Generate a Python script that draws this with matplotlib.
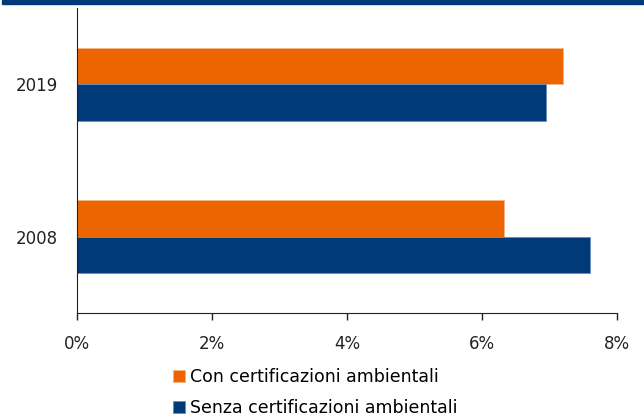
import matplotlib
matplotlib.use('Agg')
import matplotlib.pyplot as plt
from matplotlib.patches import Rectangle
from matplotlib.ticker import FuncFormatter
import numpy as np

years = ['2008', '2019']
con = [6.32, 7.20]
senza = [7.60, 6.95]
series_labels = ['Con certificazioni ambientali', 'Senza certificazioni ambientali']
orange = '#EC6500'
navy = '#003A78'

plt.rcParams['font.family'] = ['DejaVu Sans']

fig = plt.figure(figsize=(6.44, 4.18), dpi=100)
fig.patch.set_facecolor('white')
fig.patches.append(Rectangle((0.003, 0.99), 0.997, 0.01, transform=fig.transFigure,
                             color=navy, zorder=0))

ax = fig.add_axes([0.1196, 0.2512, 0.8384, 0.7298])
y = np.arange(len(years))
h = 0.24
ax.barh(y + h / 2, con, height=h, color=orange, edgecolor='#F5B383', linewidth=0.6,
        label=series_labels[0])
ax.barh(y - h / 2, senza, height=h, color=navy, edgecolor='#6C8DB8', linewidth=0.6,
        label=series_labels[1])

ax.set_xlim(0, 8)
ax.set_ylim(-0.5, 1.5)
ax.set_xticks([0, 2, 4, 6, 8])
ax.xaxis.set_major_formatter(FuncFormatter(lambda v, p: f'{v:.0f}%'))
ax.set_yticks(y)
ax.set_yticklabels(years)
ax.tick_params(axis='x', direction='out', length=5, width=1, pad=11, labelsize=12, colors='#222222')
ax.tick_params(axis='y', length=0, pad=14, labelsize=12, colors='#222222')
for s in ['top', 'right']:
    ax.spines[s].set_visible(False)
ax.spines['left'].set_color('#222222')
ax.spines['bottom'].set_color('#222222')

handles, labels = ax.get_legend_handles_labels()
fig.legend(handles, labels, loc='center', bbox_to_anchor=(0.49, 0.061), ncol=1, frameon=False,
           fontsize=12.5, handlelength=0.7, handleheight=0.7, handletextpad=0.3,
           labelspacing=0.75, borderaxespad=0)

fig.savefig('out.png', dpi=100, facecolor='white')
